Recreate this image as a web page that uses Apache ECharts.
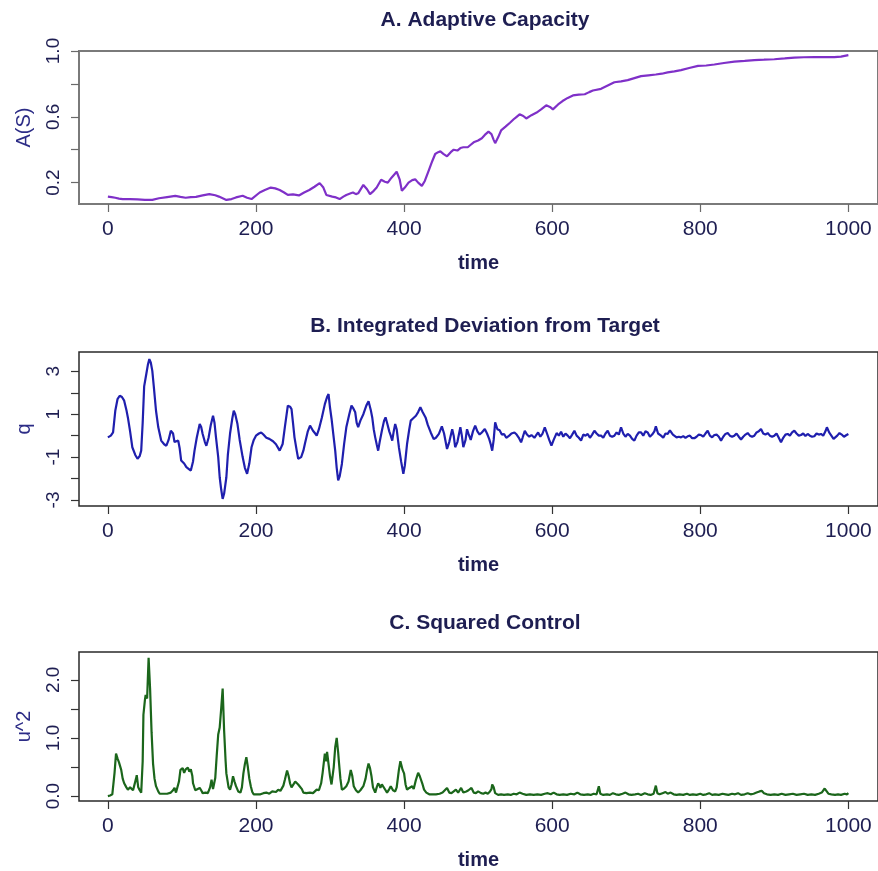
<!DOCTYPE html>
<html><head><meta charset="utf-8">
<script src="https://cdn.jsdelivr.net/npm/echarts@6/dist/echarts.min.js"></script>
<style>html,body{margin:0;padding:0;background:#fff;}#c{width:878px;height:871px;}</style>
</head><body><div id="c"></div>
<script>
// ---- tick labels ----
const xTicks = [0, 200, 400, 600, 800, 1000];
const yTicksA = [0.2, 0.4, 0.6, 0.8, 1.0];
const yLabelsA = [0.2, 0.6, 1.0];
const yTicksB = [-3, -2, -1, 0, 1, 2, 3];
const yLabelsB = [-3, -1, 1, 3];
const yTicksC = [0, 0.5, 1.0, 1.5, 2.0];
const yLabelsC = [0, 1.0, 2.0];

// ---- A. Adaptive Capacity ----
const tA = [0,5,10,15,20,30,40,50,60,69,
80,91,98,105,112,119,128,137,145,150,
160,167,173,182,188,194,205,212,220,226,
232,238,243,250,258,265,272,279,286,291,
295,303,308,313,318,322,328,331,335,338,
345,350,354,359,363,369,374,378,383,390,
394,397,401,406,411,415,419,424,428,433,
438,442,446,449,453,458,463,467,472,476,
480,486,490,494,500,505,509,514,518,521,
523,527,531,537,543,548,552,556,561,565,
572,579,585,592,597,601,608,614,621,628,
636,644,650,655,666,675,684,693,702,711,
720,730,740,748,756,765,774,785,797,808,
819,832,846,860,873,886,900,914,927,940,
954,968,981,990,1000];
const aS = [0.115,0.112,0.108,0.103,0.100,0.100,0.098,0.095,0.095,0.105,
0.112,0.119,0.113,0.108,0.112,0.113,0.122,0.130,0.123,0.115,
0.095,0.100,0.110,0.120,0.108,0.100,0.140,0.155,0.170,0.165,
0.155,0.140,0.125,0.128,0.122,0.140,0.155,0.175,0.197,0.170,
0.125,0.115,0.110,0.100,0.115,0.125,0.135,0.140,0.130,0.135,
0.186,0.160,0.130,0.150,0.170,0.217,0.205,0.200,0.230,0.266,
0.220,0.150,0.170,0.200,0.215,0.220,0.200,0.180,0.210,0.270,
0.330,0.374,0.385,0.390,0.375,0.360,0.385,0.400,0.395,0.410,
0.415,0.415,0.430,0.445,0.456,0.470,0.490,0.510,0.495,0.460,
0.440,0.475,0.517,0.540,0.564,0.585,0.600,0.615,0.605,0.590,
0.610,0.626,0.645,0.670,0.660,0.645,0.675,0.696,0.715,0.730,
0.735,0.737,0.750,0.760,0.770,0.790,0.810,0.815,0.823,0.835,
0.847,0.852,0.857,0.862,0.870,0.876,0.884,0.897,0.910,0.912,
0.918,0.927,0.935,0.940,0.945,0.947,0.950,0.955,0.960,0.962,
0.963,0.963,0.963,0.966,0.975];

// ---- B. Integrated Deviation from Target ----
const tB = [0,4,7,10,13,16,19,22,25,27,
30,33,37,40,43,45,47,49,52,54,
56,58,60,62,65,68,72,76,79,82,
85,88,90,92,95,97,99,103,106,109,
112,115,117,120,124,126,128,131,133,136,
139,142,144,146,149,151,153,155,157,160,
162,165,168,170,172,175,178,182,185,188,
191,194,197,200,204,207,210,214,218,223,
227,232,236,239,243,246,248,250,252,255,
257,259,261,264,266,270,273,275,277,280,
282,285,289,293,296,298,300,302,305,307,
309,311,313,316,319,322,326,329,331,334,
336,338,341,345,349,352,355,357,359,361,
363,365,367,370,373,375,377,380,382,384,
386,388,390,393,396,399,401,404,407,409,
412,416,419,422,425,429,432,436,440,443,
447,451,454,458,461,465,467,469,472,476,
478,480,483,485,487,490,493,496,499,502,
505,509,512,515,517,519,521,523,526,529,
532,535,538,542,545,549,552,555,558,560,
563,566,569,572,576,578,581,584,587,590,
593,596,599,602,606,609,612,615,618,621,
624,627,630,633,636,639,642,645,648,651,
654,657,660,663,666,669,672,675,678,681,
684,687,690,693,696,699,702,705,708,711,
714,717,720,723,726,729,732,735,738,740,
743,747,750,753,756,759,761,763,765,768,
771,774,777,780,783,786,789,792,795,798,
801,804,807,810,813,816,819,822,825,828,
831,834,837,840,843,846,849,852,855,858,
861,864,867,870,873,876,879,882,885,888,
891,894,897,900,903,906,909,912,915,918,
921,924,927,930,933,936,939,942,945,948,
951,954,957,960,963,966,969,971,974,977,
980,982,985,988,991,994,997,1000];
const qS = [-0.08,0.0,0.15,1.16,1.70,1.86,1.80,1.63,1.20,0.85,
0.20,-0.54,-0.90,-1.08,-0.95,-0.70,0.60,2.30,2.90,3.30,
3.57,3.40,3.02,2.30,1.16,0.40,-0.23,-0.40,-0.47,-0.20,
0.23,0.10,-0.30,-0.35,-0.23,-0.60,-1.16,-1.30,-1.47,-1.55,
-1.63,-1.20,-0.70,-0.10,0.54,0.40,0.08,-0.30,-0.47,-0.10,
0.50,0.93,0.60,-0.08,-1.00,-1.94,-2.50,-2.95,-2.70,-1.94,
-0.90,0.10,0.80,1.16,1.00,0.54,-0.20,-1.00,-1.50,-1.78,
-1.30,-0.54,-0.20,0.00,0.10,0.15,0.05,-0.10,-0.15,-0.26,
-0.40,-0.70,-0.39,0.40,1.40,1.35,1.24,0.60,-0.08,-0.70,
-1.08,-1.10,-1.00,-0.70,-0.39,0.20,0.47,0.40,0.23,0.10,
0.00,0.30,0.85,1.47,1.80,1.94,1.30,0.80,-0.10,-0.70,
-1.50,-2.09,-1.90,-1.32,-0.40,0.39,1.00,1.40,1.30,1.09,
0.60,0.40,0.70,1.00,1.40,1.60,1.20,0.85,0.30,-0.08,
-0.40,-0.70,-0.30,0.23,0.70,0.85,0.60,0.20,0.00,-0.23,
0.20,0.54,0.30,-0.54,-1.20,-1.78,-1.40,-0.39,0.30,0.70,
0.80,0.93,1.10,1.32,1.10,0.85,0.50,0.15,-0.16,-0.10,
0.08,0.43,0.10,-0.62,-0.30,0.30,0.00,-0.54,-0.30,0.39,
0.00,-0.54,-0.20,0.30,0.08,-0.20,0.20,0.47,0.20,0.05,
0.15,0.31,0.10,-0.16,-0.40,-0.70,-0.20,0.62,0.30,0.25,
0.05,0.08,-0.10,0.00,0.10,0.15,0.05,-0.10,-0.31,-0.10,
0.23,0.05,-0.05,0.03,-0.10,0.00,0.15,-0.05,0.10,0.39,
0.10,-0.20,-0.47,-0.20,0.12,0.00,0.18,-0.05,0.10,0.00,
-0.12,0.05,0.23,0.00,-0.10,-0.23,0.05,0.00,0.08,-0.10,
0.05,0.23,0.10,0.00,0.00,-0.10,0.10,0.23,0.00,-0.05,
0.00,0.15,0.05,0.39,0.10,-0.05,0.08,0.00,-0.15,-0.23,
0.00,0.15,0.15,0.00,0.20,0.15,-0.05,0.05,0.20,0.43,
0.10,0.00,-0.10,0.10,0.08,0.25,0.31,0.05,-0.03,-0.08,
-0.05,-0.08,-0.02,-0.10,-0.03,0.00,-0.12,-0.12,-0.05,0.05,
0.03,-0.05,0.10,0.23,0.00,-0.08,0.03,0.05,-0.05,-0.23,
-0.05,0.08,0.12,0.00,-0.05,0.00,0.10,-0.05,-0.18,-0.05,
0.05,0.12,0.00,-0.05,0.00,0.15,0.20,0.31,0.10,0.05,
0.12,0.00,-0.05,0.00,0.10,-0.10,-0.31,-0.10,0.05,0.08,
0.00,0.15,0.23,0.10,0.00,0.03,0.10,-0.02,0.08,0.00,
-0.05,-0.03,0.10,0.05,0.08,0.00,0.20,0.39,0.15,0.00,
-0.15,-0.23,0.00,0.12,0.05,-0.05,0.02,0.08];

// ---- C. Squared Control ----
const tC = [0,3,6,9,11,13,15,18,20,22,
25,27,30,32,34,36,38,39,41,43,
45,47,48,50,51,53,55,57,59,61,
63,65,68,70,75,80,85,88,90,92,
94,96,98,101,103,105,108,110,112,114,
115,118,120,124,126,128,132,135,138,140,
142,143,145,147,149,151,153,155,157,159,
160,163,165,167,169,171,173,176,179,181,
183,185,187,189,191,193,195,197,202,206,
210,214,218,222,224,227,230,233,235,237,
239,242,244,246,248,250,253,255,257,259,
262,264,268,273,277,282,285,288,290,293,
295,296,298,300,302,303,305,307,309,311,
312,314,316,319,322,325,328,330,332,335,
338,341,345,348,350,352,354,356,358,361,
363,365,367,368,370,372,375,377,380,382,
385,388,390,393,395,396,398,400,402,404,
407,411,413,416,419,421,423,425,427,430,
434,438,443,448,452,455,458,461,464,467,
470,473,475,477,480,484,487,491,494,497,
500,504,507,510,513,516,518,519,521,523,
527,531,535,540,544,548,552,556,558,560,
565,570,575,580,585,590,594,598,602,606,
610,615,620,625,630,634,638,643,648,652,
656,660,663,665,669,674,678,682,686,690,
695,699,703,707,712,716,720,725,729,733,
737,740,742,745,749,753,756,760,764,768,
772,777,782,786,790,795,800,804,808,812,
816,820,825,830,834,838,843,847,851,855,
860,864,868,872,876,880,883,886,890,895,
900,905,910,915,920,925,930,935,940,945,
950,955,960,964,968,970,973,977,982,986,
990,995,998,1000];
const uS = [0.00,0.01,0.03,0.40,0.73,0.65,0.58,0.45,0.30,0.22,
0.15,0.11,0.15,0.17,0.10,0.11,0.30,0.36,0.15,0.10,
0.06,0.60,1.40,1.65,1.74,1.68,2.38,1.85,1.10,0.56,
0.30,0.17,0.08,0.04,0.04,0.04,0.06,0.10,0.14,0.06,
0.05,0.25,0.45,0.48,0.40,0.46,0.49,0.42,0.46,0.35,
0.22,0.10,0.08,0.14,0.10,0.05,0.06,0.05,0.15,0.28,
0.12,0.11,0.31,0.70,1.06,1.18,1.50,1.85,1.12,0.60,
0.39,0.15,0.11,0.20,0.34,0.25,0.17,0.08,0.06,0.15,
0.39,0.55,0.67,0.50,0.30,0.17,0.07,0.03,0.03,0.03,
0.05,0.06,0.04,0.08,0.10,0.07,0.11,0.09,0.08,0.18,
0.28,0.44,0.35,0.22,0.15,0.14,0.25,0.28,0.20,0.22,
0.12,0.06,0.05,0.06,0.05,0.11,0.10,0.22,0.40,0.73,
0.60,0.76,0.55,0.34,0.20,0.22,0.50,0.84,1.00,0.75,
0.59,0.30,0.11,0.13,0.17,0.25,0.45,0.35,0.17,0.10,
0.06,0.10,0.17,0.30,0.45,0.56,0.48,0.34,0.15,0.06,
0.15,0.22,0.18,0.14,0.20,0.22,0.10,0.06,0.12,0.17,
0.10,0.08,0.15,0.45,0.60,0.62,0.45,0.39,0.20,0.11,
0.14,0.17,0.12,0.28,0.40,0.35,0.34,0.20,0.11,0.06,
0.03,0.03,0.03,0.04,0.06,0.10,0.14,0.06,0.05,0.08,
0.11,0.06,0.10,0.14,0.06,0.08,0.10,0.14,0.06,0.05,
0.08,0.05,0.04,0.06,0.04,0.08,0.12,0.20,0.15,0.05,
0.02,0.03,0.02,0.03,0.02,0.04,0.03,0.06,0.09,0.04,
0.02,0.03,0.02,0.03,0.02,0.04,0.05,0.03,0.06,0.03,
0.02,0.03,0.02,0.04,0.03,0.06,0.03,0.02,0.03,0.02,
0.04,0.03,0.17,0.04,0.02,0.03,0.02,0.05,0.03,0.02,
0.04,0.06,0.03,0.02,0.03,0.04,0.02,0.05,0.03,0.02,
0.04,0.18,0.05,0.03,0.05,0.07,0.04,0.06,0.03,0.02,
0.03,0.02,0.04,0.02,0.03,0.02,0.04,0.02,0.03,0.05,
0.02,0.03,0.02,0.04,0.03,0.02,0.04,0.03,0.05,0.02,
0.03,0.05,0.03,0.04,0.06,0.08,0.09,0.05,0.03,0.02,
0.03,0.02,0.04,0.02,0.03,0.04,0.02,0.03,0.04,0.02,
0.03,0.02,0.04,0.06,0.13,0.10,0.04,0.03,0.02,0.03,
0.02,0.04,0.03,0.05];

const zip = (ts, vs) => ts.map((t, i) => [t, vs[i]]);

const FONT = '"Liberation Sans", Arial, sans-serif';
const TXT = '#1e1e52';
const NAMEC = '#2c2c86';

const panels = [
  {title:'A. Adaptive Capacity', top:51, h:153, border:'#7a7a7a', bw:2, tick:'#6a6a6a',
   ymin:0.07, ymax:1.0, yt:yTicksA, yl:yLabelsA, fmt:v=>v.toFixed(1), yname:'A(S)',
   data:zip(tA,aS), color:'#7f30c8', titleTop:5},
  {title:'B. Integrated Deviation from Target', top:352, h:154, border:'#2a2a2a', bw:1.5, tick:'#333',
   ymin:-3.28, ymax:3.9, yt:yTicksB, yl:yLabelsB, fmt:v=>String(v), yname:'q',
   data:zip(tB,qS), color:'#1f1fae', titleTop:311},
  {title:'C. Squared Control', top:652, h:153, border:'#2a2a2a', bw:1.5, tick:'#333',
   ymin:-0.085, ymax:2.48, yt:yTicksC, yl:yLabelsC, fmt:v=>v.toFixed(1), yname:'u^2',
   data:zip(tC,uS), color:'#1b661b', titleTop:608}
];

const option = {
  animation:false,
  backgroundColor:'#ffffff',
  title: panels.map(p => ({text:p.title, left:480, top:p.titleTop, textAlign:'center',
    textStyle:{fontFamily:FONT, fontSize:21, fontWeight:'bold', color:TXT}})),
  grid: panels.map(p => ({left:79, top:p.top, width:802, height:p.h, show:true,
    borderColor:p.border, borderWidth:p.bw, backgroundColor:'transparent', containLabel:false})),
  xAxis: panels.map((p,i) => ({gridIndex:i, type:'value', min:-39, max:1040,
    axisLine:{show:false, onZero:false}, splitLine:{show:false},
    axisTick:{show:true, length:8, customValues:xTicks, lineStyle:{color:p.tick, width:1.2}},
    axisLabel:{customValues:xTicks, margin:15, fontSize:21, fontFamily:FONT, color:TXT,
      formatter:v=>String(v)},
    name:'time', nameLocation:'middle', nameGap:49,
    nameTextStyle:{fontFamily:FONT, fontSize:20, fontWeight:'bold', color:TXT}})),
  yAxis: panels.map((p,i) => ({gridIndex:i, type:'value', min:p.ymin, max:p.ymax,
    axisLine:{show:false, onZero:false}, splitLine:{show:false},
    axisTick:{show:true, length:8, customValues:p.yt, lineStyle:{color:p.tick, width:1.2}},
    axisLabel:{customValues:p.yl, rotate:90, margin:16, fontSize:19, fontFamily:FONT, color:TXT,
      formatter:p.fmt},
    name:p.yname, nameLocation:'middle', nameGap:45, nameRotate:90,
    nameTextStyle:{fontFamily:FONT, fontSize:20, color:NAMEC}})),
  series: panels.map((p,i) => ({type:'line', xAxisIndex:i, yAxisIndex:i, data:p.data,
    showSymbol:false, symbol:'none', smooth:false,
    lineStyle:{color:p.color, width:2.2}, itemStyle:{color:p.color}}))
};

const chart = echarts.init(document.getElementById('c'), null, {renderer:'canvas'});
chart.setOption(option);
</script>
</body></html>
